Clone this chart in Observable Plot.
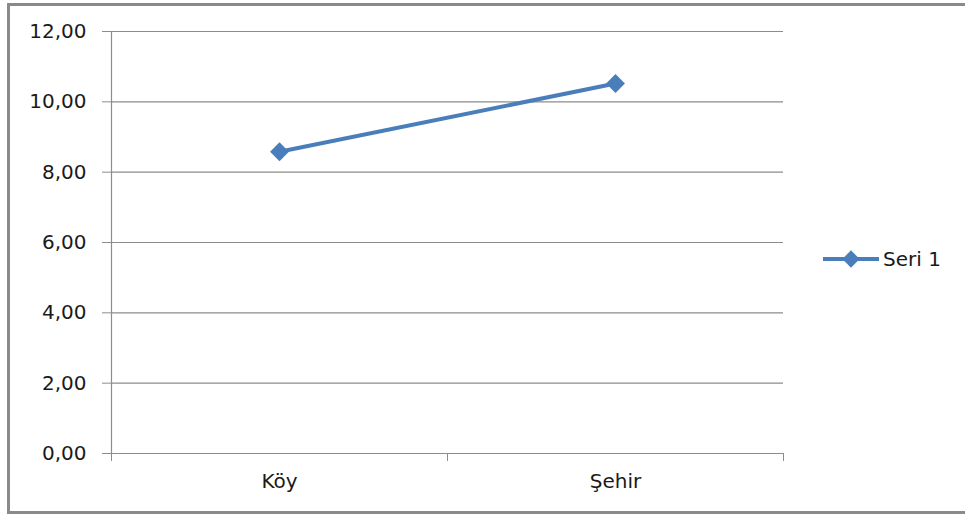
<!DOCTYPE html>
<html>
<head>
<meta charset="utf-8">
<script src="https://cdn.jsdelivr.net/npm/d3@7"></script>
<script src="https://cdn.jsdelivr.net/npm/@observablehq/plot@0.6"></script>
<style>
  html, body { margin: 0; padding: 0; background: #fff; overflow: hidden; }
  #wrap { position: relative; width: 965px; height: 515px; overflow: hidden; }
  #frame { position: absolute; left: 7px; top: 3px; width: 975px; height: 505px; border: 3px solid #8a8a8a; box-sizing: content-box; }
  #chart { position: absolute; left: 0; top: 0; }
  #legend { position: absolute; left: 823px; top: 247px; display: flex; align-items: center; font-family: "DejaVu Sans", sans-serif; font-size: 20px; color: #1a1a1a; }
  #legend span { margin-left: 4px; }
</style>
</head>
<body>
<div id="wrap">
  <div id="frame"></div>
  <div id="chart"></div>
  <div id="legend"></div>
</div>
<script>
const categories = ["Köy", "Şehir"];
const values = [8.58, 10.52];
const yTicks = [0, 2, 4, 6, 8, 10, 12];
const seriesName = "Seri 1";

const lineColor = "#4a7ebb";
const gridColor = "#8c8c8c";

const data = categories.map((c, i) => ({cat: c, pos: i + 0.5, value: values[i]}));
const fmt = v => v.toFixed(2).replace(".", ",");

const chart = Plot.plot({
  width: 965,
  height: 515,
  marginLeft: 111,
  marginRight: 182,
  marginTop: 31,
  marginBottom: 62,
  style: {fontFamily: "DejaVu Sans, sans-serif", fontSize: "20px", color: "#1a1a1a", background: "transparent"},
  x: {domain: [0, categories.length], axis: null},
  y: {domain: [0, 12], axis: null},
  marks: [
    Plot.gridY(yTicks, {stroke: gridColor, strokeOpacity: 1, strokeWidth: 1.2}),
    Plot.axisY({ticks: yTicks, tickSize: 9, tickPadding: 16, tickFormat: fmt, stroke: gridColor, strokeOpacity: 1, fill: "#1a1a1a", label: null}),
    Plot.ruleX([0], {stroke: gridColor, strokeWidth: 1.2}),
    Plot.ruleY([0], {stroke: gridColor, strokeWidth: 1.2}),
    Plot.axisX({ticks: d3.range(0, categories.length + 1), tickSize: 8, tickFormat: () => "", stroke: gridColor, strokeOpacity: 1, label: null}),
    Plot.axisX({ticks: data.map(d => d.pos), tickSize: 0, tickPadding: 20, tickFormat: v => categories[Math.floor(v)], fill: "#1a1a1a", label: null}),
    Plot.line(data, {x: "pos", y: "value", stroke: lineColor, strokeWidth: 4}),
    Plot.dot(data, {x: "pos", y: "value", symbol: "diamond2", r: 8.5, fill: lineColor, stroke: "none"})
  ]
});
document.getElementById("chart").appendChild(chart);

// legend
const leg = document.getElementById("legend");
const ls = d3.create("svg").attr("width", 56).attr("height", 22);
ls.append("line").attr("x1", 0).attr("x2", 56).attr("y1", 11).attr("y2", 11).attr("stroke", lineColor).attr("stroke-width", 4);
ls.append("path").attr("d", d3.symbol(d3.symbolDiamond2, 190)()).attr("transform", "translate(28,11)").attr("fill", lineColor);
leg.appendChild(ls.node());
const t = document.createElement("span");
t.textContent = seriesName;
leg.appendChild(t);
</script>
</body>
</html>
